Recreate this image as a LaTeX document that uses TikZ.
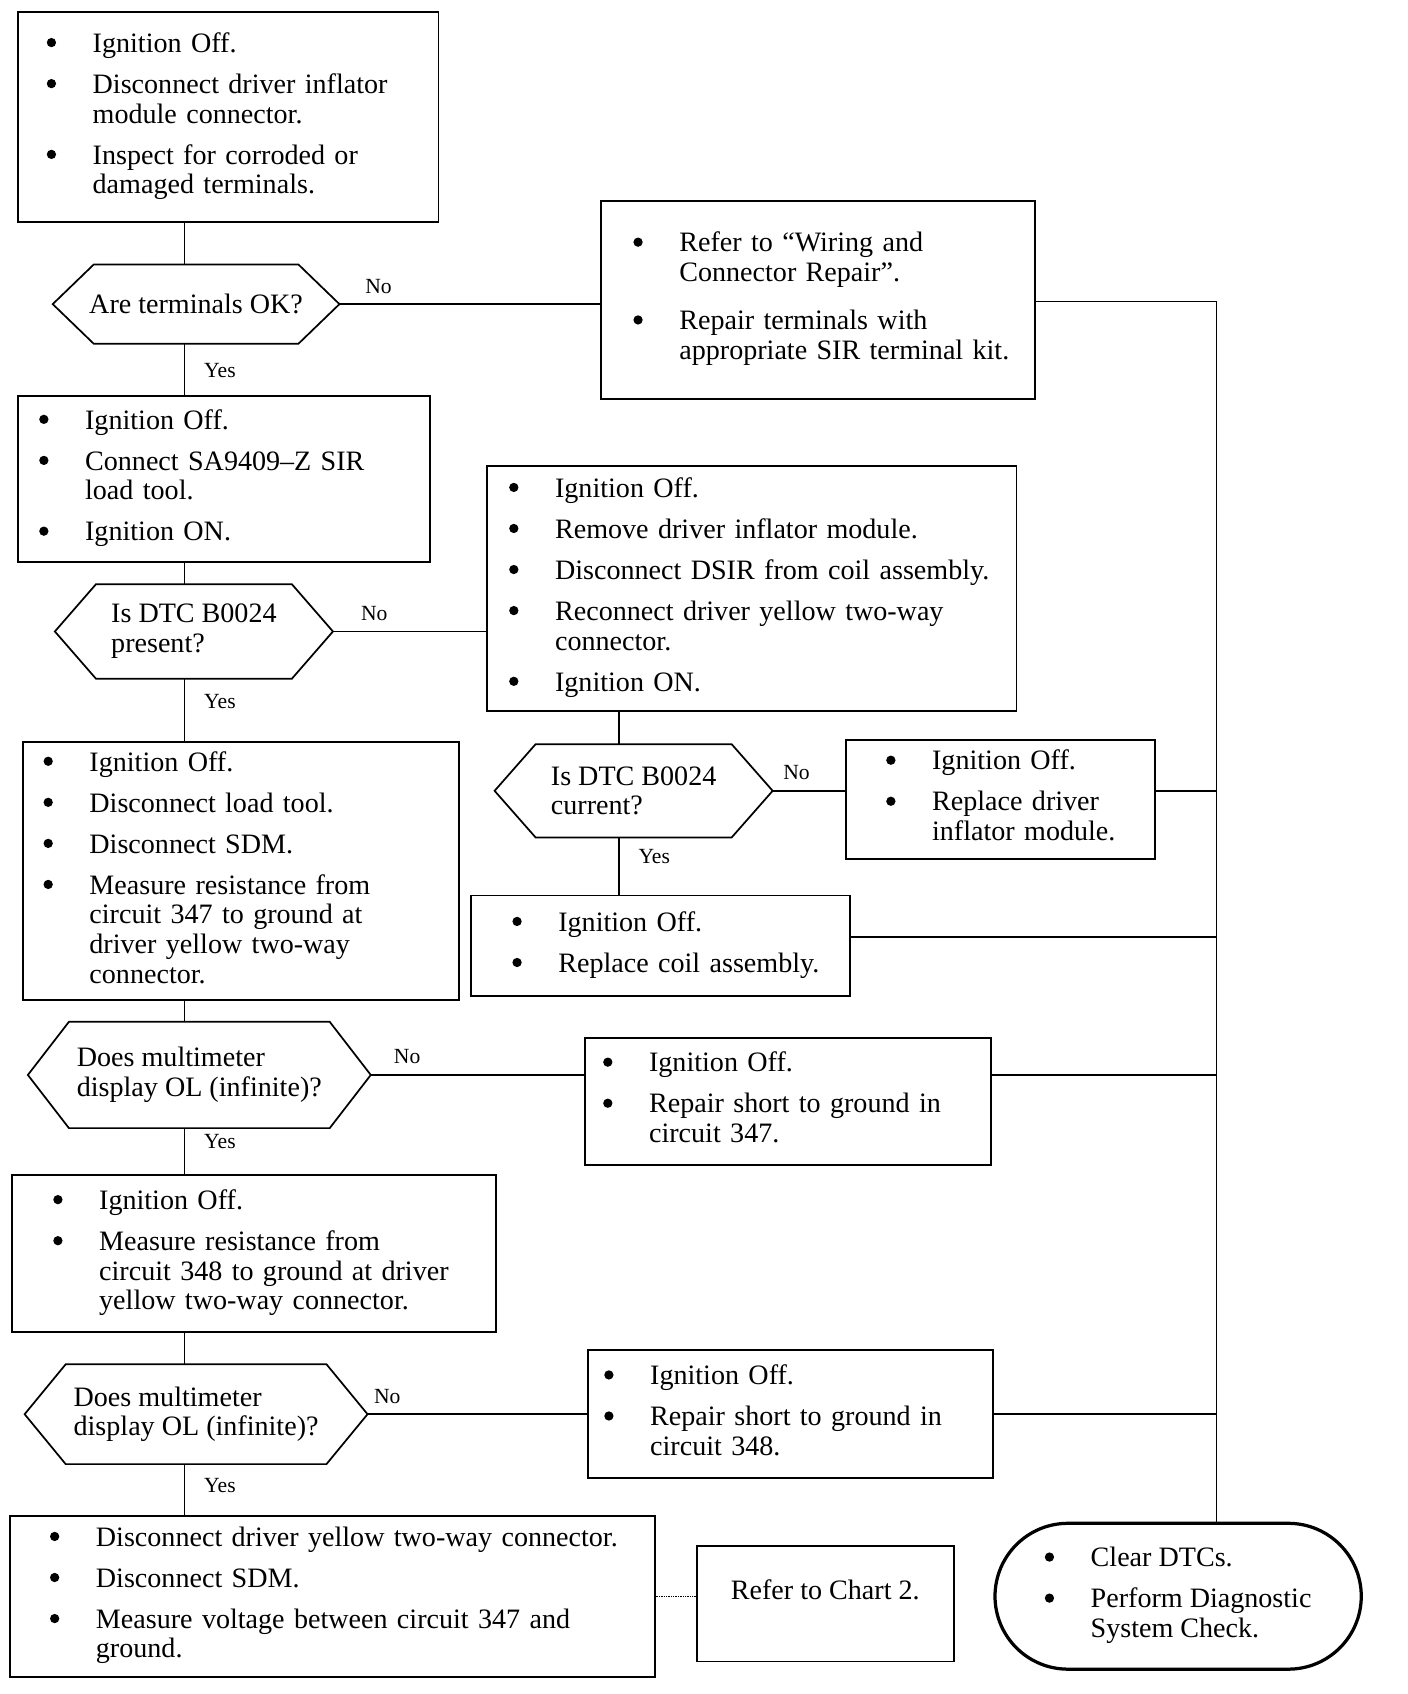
\documentclass[tikz,border=0pt]{standalone}
\usepackage{fontspec}
\setmainfont{Liberation Serif}
\usetikzlibrary{positioning,shapes.misc}

\newcommand\bul{\makebox[42.5pt][l]{\tikz[baseline=-9pt]\fill (0,0) circle (4.3pt);\hspace{-4.3pt}}}
\newcommand\ind{\hspace*{42.5pt}}
\newcommand\steplist[1]{\begin{tabular}{@{}l@{}}#1\end{tabular}}

\tikzset{
  stepbox/.style={draw, line width=1.8pt, anchor=north west, align=left,
    inner ysep=0pt, font=\fontsize{26}{27.5}\selectfont},
  decision/.style={align=left, inner sep=0pt, font=\fontsize{26}{27.5}\selectfont},
  endbox/.style={draw, rounded rectangle, line width=3pt, align=left,
    inner sep=0pt, font=\fontsize{26}{27.5}\selectfont},
  link/.style={line width=1.4pt},
  yeslbl/.style={right, xshift=14pt, font=\fontsize{20}{22}\selectfont},
  nolbl/.style={above, yshift=6pt, font=\fontsize{20}{22}\selectfont},
}

\begin{document}
\begin{tikzpicture}[x=1pt,y=-1pt]
  \useasboundingbox (0,0) rectangle (1303,1568);
  % Action boxes
  \node[stepbox, minimum height=195pt, text width=336.2pt, inner xsep=26.4pt] (A) at (16,10)
    {\steplist{\bul Ignition Off.\\[10.5pt]
     \bul Disconnect driver inflator\\ \ind module connector.\\[10.5pt]
     \bul Inspect for corroded or\\ \ind damaged terminals.}};
  \node[stepbox, minimum height=183pt, text width=341.2pt, inner xsep=30.4pt] (B) at (555,185)
    {\steplist{\bul Refer to “Wiring and\\ \ind Connector Repair”.\\[17pt]
     \bul Repair terminals with\\ \ind appropriate SIR terminal kit.}};
  \node[stepbox, minimum height=153pt, text width=342.2pt, inner xsep=19.4pt] (C) at (16,366)
    {\steplist{\bul Ignition Off.\\[10.5pt]
     \bul Connect SA9409--Z SIR\\ \ind load tool.\\[10.5pt]
     \bul Ignition ON.}};
  \node[stepbox, minimum height=227pt, text width=449.2pt, inner xsep=20.4pt] (D) at (450,430)
    {\steplist{\bul Ignition Off.\\[10.5pt]
     \bul Remove driver inflator module.\\[10.5pt]
     \bul Disconnect DSIR from coil assembly.\\[10.5pt]
     \bul Reconnect driver yellow two-way\\ \ind connector.\\[10.5pt]
     \bul Ignition ON.}};
  \node[stepbox, minimum height=239pt, text width=365.2pt, inner xsep=19.4pt] (E) at (20,686)
    {\steplist{\bul Ignition Off.\\[10.5pt]
     \bul Disconnect load tool.\\[10.5pt]
     \bul Disconnect SDM.\\[10.5pt]
     \bul Measure resistance from\\ \ind circuit 347 to ground at\\
     \ind driver yellow two-way\\ \ind connector.}};
  \node[stepbox, minimum height=110pt, text width=211.2pt, inner xsep=37.4pt] (F) at (782,684)
    {\steplist{\bul Ignition Off.\\[10.5pt]
     \bul Replace driver\\ \ind inflator module.}};
  \node[stepbox, minimum height=93pt, text width=274.2pt, inner xsep=38.4pt] (G) at (435,828)
    {\steplist{\bul Ignition Off.\\[10.5pt]
     \bul Replace coil assembly.}};
  \node[stepbox, minimum height=117pt, text width=342.2pt, inner xsep=16.4pt] (H) at (541,960)
    {\steplist{\bul Ignition Off.\\[10.5pt]
     \bul Repair short to ground in\\ \ind circuit 347.}};
  \node[stepbox, minimum height=145pt, text width=371.2pt, inner xsep=38.4pt] (I) at (10,1087)
    {\steplist{\bul Ignition Off.\\[10.5pt]
     \bul Measure resistance from\\ \ind circuit 348 to ground at driver\\
     \ind yellow two-way connector.}};
  \node[stepbox, minimum height=118pt, text width=344.2pt, inner xsep=15.4pt] (J) at (543,1249)
    {\steplist{\bul Ignition Off.\\[10.5pt]
     \bul Repair short to ground in\\ \ind circuit 348.}};
  \node[stepbox, minimum height=149pt, text width=522.2pt, inner xsep=37.4pt] (K) at (8,1402)
    {\steplist{\bul Disconnect driver yellow two-way connector.\\[10.5pt]
     \bul Disconnect SDM.\\[10.5pt]
     \bul Measure voltage between circuit 347 and\\ \ind ground.}};
  \node[stepbox, align=center, minimum width=238pt, minimum height=107pt, inner xsep=0pt,
    text height=18pt, text depth=25pt] (L) at (644,1430) {Refer to Chart 2.};
  \node[endbox, minimum width=339pt, minimum height=135pt] (M) at (1090.5,1477.5)
    {\steplist{\bul Clear DTCs.\\[10.5pt]
     \bul Perform Diagnostic\\ \ind System Check.}};
  % Decisions
  \node[decision, minimum width=265pt, minimum height=73pt] (q1) at (181.5,281.5) {Are terminals OK?};
  \node[decision, minimum width=257pt, minimum height=87pt] (q2) at (179.5,584.5) {Is DTC B0024\\present?};
  \node[decision, minimum width=257pt, minimum height=86pt] (q3) at (586.5,732) {Is DTC B0024\\current?};
  \node[decision, minimum width=317pt, minimum height=98pt] (q4) at (184.5,995) {Does multimeter\\display OL (infinite)?};
  \node[decision, minimum width=317pt, minimum height=92pt] (q5) at (181.5,1309) {Does multimeter\\display OL (infinite)?};
  \foreach \q in {q1,q2,q3,q4,q5}
    \draw[line width=1.6pt] (\q.west) -- ([xshift=38pt]\q.north west) -- ([xshift=-38pt]\q.north east)
      -- (\q.east) -- ([xshift=-38pt]\q.south east) -- ([xshift=38pt]\q.south west) -- cycle;
  % Connectors
  \coordinate (spine) at (171,0);
  \coordinate (spine2) at (573,0);
  \coordinate (bus) at (1126,279);
  \draw[link] (A.south -| spine) -- (q1.north -| spine);
  \draw[link] (q1.south -| spine) -- node[yeslbl, pos=0.52] {Yes} (C.north -| spine);
  \draw[link] (q1.east) -- node[nolbl, pos=0.15] {No} (q1.east -| B.west);
  \draw[link] (B.east |- bus) -- (bus) -- (bus |- M.north);
  \draw[link] (C.south -| spine) -- (q2.north -| spine);
  \draw[link] (q2.east) -- node[nolbl, pos=0.27] {No} (q2.east -| D.west);
  \draw[link] (q2.south -| spine) -- node[yeslbl, pos=0.36] {Yes} (E.north -| spine);
  \draw[link] (D.south -| spine2) -- (q3.north -| spine2);
  \draw[link] (q3.east) -- node[nolbl, pos=0.33] {No} (q3.east -| F.west);
  \draw[link] (q3.east -| F.east) -- (q3.east -| bus);
  \draw[link] (q3.south -| spine2) -- node[yeslbl, pos=0.34] {Yes} (G.north -| spine2);
  \draw[link] ([yshift=8pt]G.east) -- ([yshift=8pt]G.east -| bus);
  \draw[link] (E.south -| spine) -- (q4.north -| spine);
  \draw[link] (q4.east) -- node[nolbl, pos=0.17] {No} (q4.east -| H.west);
  \draw[link] (q4.east -| H.east) -- (q4.east -| bus);
  \draw[link] (q4.south -| spine) -- node[yeslbl, pos=0.28] {Yes} (I.north -| spine);
  \draw[link] (I.south -| spine) -- (q5.north -| spine);
  \draw[link] (q5.east) -- node[nolbl, pos=0.09] {No} (q5.east -| J.west);
  \draw[link] (q5.east -| J.east) -- (q5.east -| bus);
  \draw[link] (q5.south -| spine) -- node[yeslbl, pos=0.43] {Yes} (K.north -| spine);
  \draw[line width=0.6pt, densely dotted] (K.east) -- (K.east -| L.west);
\end{tikzpicture}
\end{document}
